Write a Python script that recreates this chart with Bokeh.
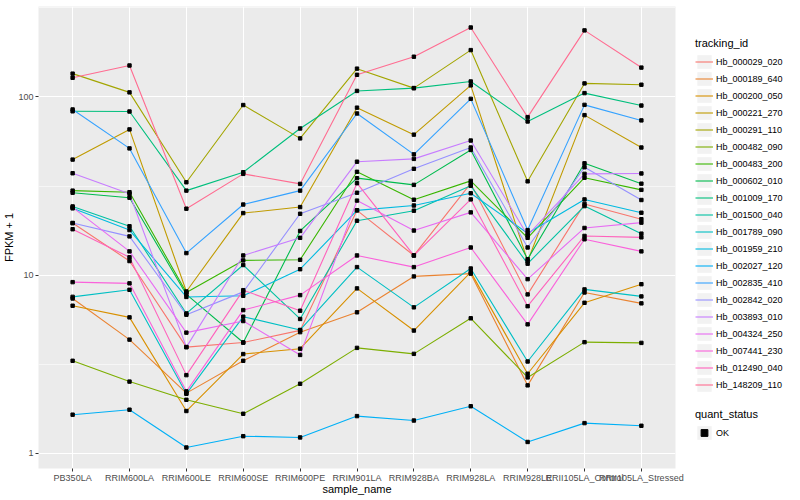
import math
from bokeh.plotting import figure
from bokeh.models import (Range1d, FixedTicker, Legend, LegendItem,
                          BasicTickFormatter, AllLabels)
from bokeh.layouts import row
from bokeh.embed import file_html
from bokeh.resources import INLINE

# ---------------- data ----------------
samples = ["PB350LA", "RRIM600LA", "RRIM600LE", "RRIM600SE", "RRIM600PE",
           "RRIM901LA", "RRIM928BA", "RRIM928LA", "RRIM928LE",
           "RRII105LA_Control", "RRII105LA_Stressed"]

tracking_ids = ["Hb_000029_020", "Hb_000189_640", "Hb_000200_050", "Hb_000221_270",
                "Hb_000291_110", "Hb_000482_090", "Hb_000483_200", "Hb_000602_010",
                "Hb_001009_170", "Hb_001500_040", "Hb_001789_090", "Hb_001959_210",
                "Hb_002027_120", "Hb_002835_410", "Hb_002842_020", "Hb_003893_010",
                "Hb_004324_250", "Hb_007441_230", "Hb_012490_040", "Hb_148209_110"]

palette = ["#F8766D", "#EA8331", "#D89000", "#C09B00", "#A3A500", "#7CAE00",
           "#39B600", "#00BB4E", "#00BF7D", "#00C1A3", "#00BFC4", "#00BAE0",
           "#00B0F6", "#35A2FF", "#9590FF", "#C77CFF", "#E76BF3", "#FA62DB",
           "#FF62BC", "#FF6C91"]

hb_000029_020 = [19.6, 12.0, 3.95, 4.19, 4.9, 23.1, 12.9, 32.7, 7.8, 25.1, 20.6]
hb_000189_640 = [7.4, 4.35, 2.18, 3.31, 4.79, 6.19, 9.84, 10.2, 2.41, 8.0, 6.95]
hb_000200_050 = [6.74, 5.8, 1.73, 3.61, 3.87, 8.43, 4.89, 10.4, 2.8, 7.0, 8.9]
hb_000221_270 = [44.5, 65.7, 8.1, 22.3, 24.1, 87.0, 61.4, 116.0, 12.0, 79.0, 52.0]
hb_000291_110 = [135.0, 106.0, 33.2, 90.0, 58.5, 144.0, 112.0, 183.0, 33.6, 119.0, 117.0]
hb_000482_090 = [3.31, 2.53, 2.0, 1.67, 2.46, 3.91, 3.62, 5.73, 2.67, 4.21, 4.17]
hb_000483_200 = [29.8, 29.2, 8.0, 12.1, 12.2, 38.0, 26.5, 33.8, 16.2, 35.2, 30.1]
hb_000602_010 = [29.0, 27.2, 7.8, 4.19, 17.7, 35.0, 32.1, 50.4, 12.3, 42.4, 32.6]
hb_001009_170 = [83.0, 82.8, 29.8, 37.8, 66.5, 108.0, 112.0, 122.0, 72.8, 105.0, 89.4]
hb_001500_040 = [24.3, 18.8, 6.1, 11.4, 5.68, 20.2, 23.0, 31.7, 11.6, 24.4, 17.1]
hb_001789_090 = [7.56, 8.28, 2.16, 5.85, 4.93, 11.1, 6.6, 10.9, 3.28, 8.32, 7.6]
hb_001959_210 = [23.7, 17.9, 7.55, 7.66, 10.8, 23.1, 24.6, 28.8, 17.2, 26.6, 22.4]
hb_002027_120 = [1.65, 1.76, 1.08, 1.25, 1.23, 1.62, 1.53, 1.84, 1.16, 1.48, 1.43]
hb_002835_410 = [85.0, 51.4, 13.3, 24.9, 29.8, 80.7, 47.6, 97.5, 17.9, 90.2, 73.8]
hb_002842_020 = [19.6, 16.5, 6.0, 8.06, 22.1, 29.0, 39.5, 52.0, 14.3, 40.3, 26.4]
hb_003893_010 = [37.3, 28.6, 3.95, 12.9, 16.2, 43.3, 44.9, 56.9, 16.7, 37.0, 37.2]
hb_004324_250 = [24.0, 13.6, 4.76, 5.53, 3.57, 26.2, 17.8, 22.5, 9.5, 18.4, 19.7]
hb_007441_230 = [9.14, 9.0, 2.23, 6.37, 7.73, 12.9, 11.1, 14.3, 5.3, 15.9, 13.6]
hb_012490_040 = [18.1, 12.6, 2.75, 8.24, 6.32, 32.8, 12.9, 26.6, 6.7, 16.6, 16.3]
hb_148209_110 = [128.0, 150.0, 23.6, 37.0, 32.5, 133.0, 168.0, 245.0, 77.0, 236.0, 146.0]

series = [hb_000029_020, hb_000189_640, hb_000200_050, hb_000221_270, hb_000291_110,
          hb_000482_090, hb_000483_200, hb_000602_010, hb_001009_170, hb_001500_040,
          hb_001789_090, hb_001959_210, hb_002027_120, hb_002835_410, hb_002842_020,
          hb_003893_010, hb_004324_250, hb_007441_230, hb_012490_040, hb_148209_110]

y_ticks = [1, 10, 100]
y_tick_labels = ["1", "10", "100"]

# ---------------- styling ----------------
FONT = "Liberation Sans"
H = 497
xs = [i + 1 for i in range(len(samples))]

all_logs = [math.log10(v) for s in series for v in s]
lo, hi = min(all_logs), max(all_logs)
pad = (hi - lo) * 0.05

p = figure(width=685, height=H, y_axis_type="log",
           x_range=Range1d(0.4, len(samples) + 0.6),
           y_range=Range1d(10 ** (lo - pad), 10 ** (hi + pad)),
           toolbar_location=None, output_backend="svg",
           min_border_left=32, min_border_right=10, min_border_top=6,
           min_border_bottom=16)
p.background_fill_color = "#EBEBEB"
p.border_fill_color = "white"
p.outline_line_color = None

for s, col in zip(series, palette):
    p.line(xs, s, line_color=col, line_width=1.1)

px = [x for s in series for x in xs]
py = [v for s in series for v in s]
p.scatter(px, py, marker="square", size=3.4, fill_color="black", line_color="black")

# axes
p.xaxis.ticker = FixedTicker(ticks=xs)
p.xaxis.major_label_overrides = {x: name for x, name in zip(xs, samples)}
p.xaxis.major_label_policy = AllLabels()
p.yaxis.ticker = FixedTicker(ticks=y_ticks,
                             minor_ticks=[10 ** 0.5, 10 ** 1.5, 10 ** 2.5])
p.yaxis.formatter = BasicTickFormatter(use_scientific=False)
p.yaxis.major_label_overrides = {t: l for t, l in zip(y_ticks, y_tick_labels)}

for ax in (p.xaxis[0], p.yaxis[0]):
    ax.axis_line_color = None
    ax.major_tick_line_color = "#333333"
    ax.major_tick_in = 0
    ax.major_tick_out = 3
    ax.minor_tick_line_color = None
    ax.major_label_text_font = FONT
    ax.major_label_text_font_size = "9px"
    ax.major_label_text_color = "#4D4D4D"
    ax.major_label_standoff = 1
    ax.axis_label_text_font = FONT
    ax.axis_label_text_font_size = "11px"
    ax.axis_label_text_font_style = "normal"
    ax.axis_label_text_color = "black"
    ax.axis_label_standoff = 0

p.xaxis[0].axis_label_standoff = -3
p.xaxis.axis_label = "sample_name"
p.yaxis.axis_label = "FPKM + 1"

p.xgrid.grid_line_color = "white"
p.xgrid.grid_line_width = 1.1
p.ygrid.grid_line_color = "white"
p.ygrid.grid_line_width = 1.1
p.ygrid.minor_grid_line_color = "white"
p.ygrid.minor_grid_line_width = 0.55

# ---------------- legend panel ----------------
lg = figure(width=107, height=H, x_range=Range1d(0, 1), y_range=Range1d(0, 1),
            toolbar_location=None, output_backend="svg",
            x_axis_location=None, y_axis_location=None,
            min_border=0)
lg.grid.visible = False
lg.outline_line_color = None
lg.background_fill_color = "white"

# legend-only renderers: one point placed outside the (0, 1) view
key_bg = lg.quad(left=[5], right=[6], top=[6], bottom=[5], fill_color="#F2F2F2",
                 line_color=None)
items = []
for tid, col in zip(tracking_ids, palette):
    r = lg.line(x=[5, 6], y=[5, 5], line_color=col, line_width=1.1)
    items.append(LegendItem(label=tid, renderers=[key_bg, r]))

ok_r = lg.scatter(x=[5], y=[5], marker="square", size=4,
                  fill_color="black", line_color="black")


def style_legend(leg):
    leg.title_text_font = FONT
    leg.title_text_font_size = "11px"
    leg.title_text_font_style = "normal"
    leg.title_text_color = "black"
    leg.label_text_font = FONT
    leg.label_text_font_size = "9px"
    leg.label_text_color = "black"
    leg.glyph_width = 18
    leg.glyph_height = 17
    leg.label_height = 17
    leg.spacing = 0
    leg.padding = 0
    leg.margin = 0
    leg.label_standoff = 3
    leg.title_standoff = 4
    leg.border_line_color = None
    leg.background_fill_alpha = 0


leg1 = Legend(items=items, title="tracking_id", location=(10, 75))
style_legend(leg1)
lg.add_layout(leg1, "center")

leg2 = Legend(items=[LegendItem(label="OK", renderers=[key_bg, ok_r])],
              title="quant_status", location=(10, 27))
style_legend(leg2)
lg.add_layout(leg2, "center")

layout = row(p, lg)
open("out.html", "w").write(file_html(layout, INLINE))
